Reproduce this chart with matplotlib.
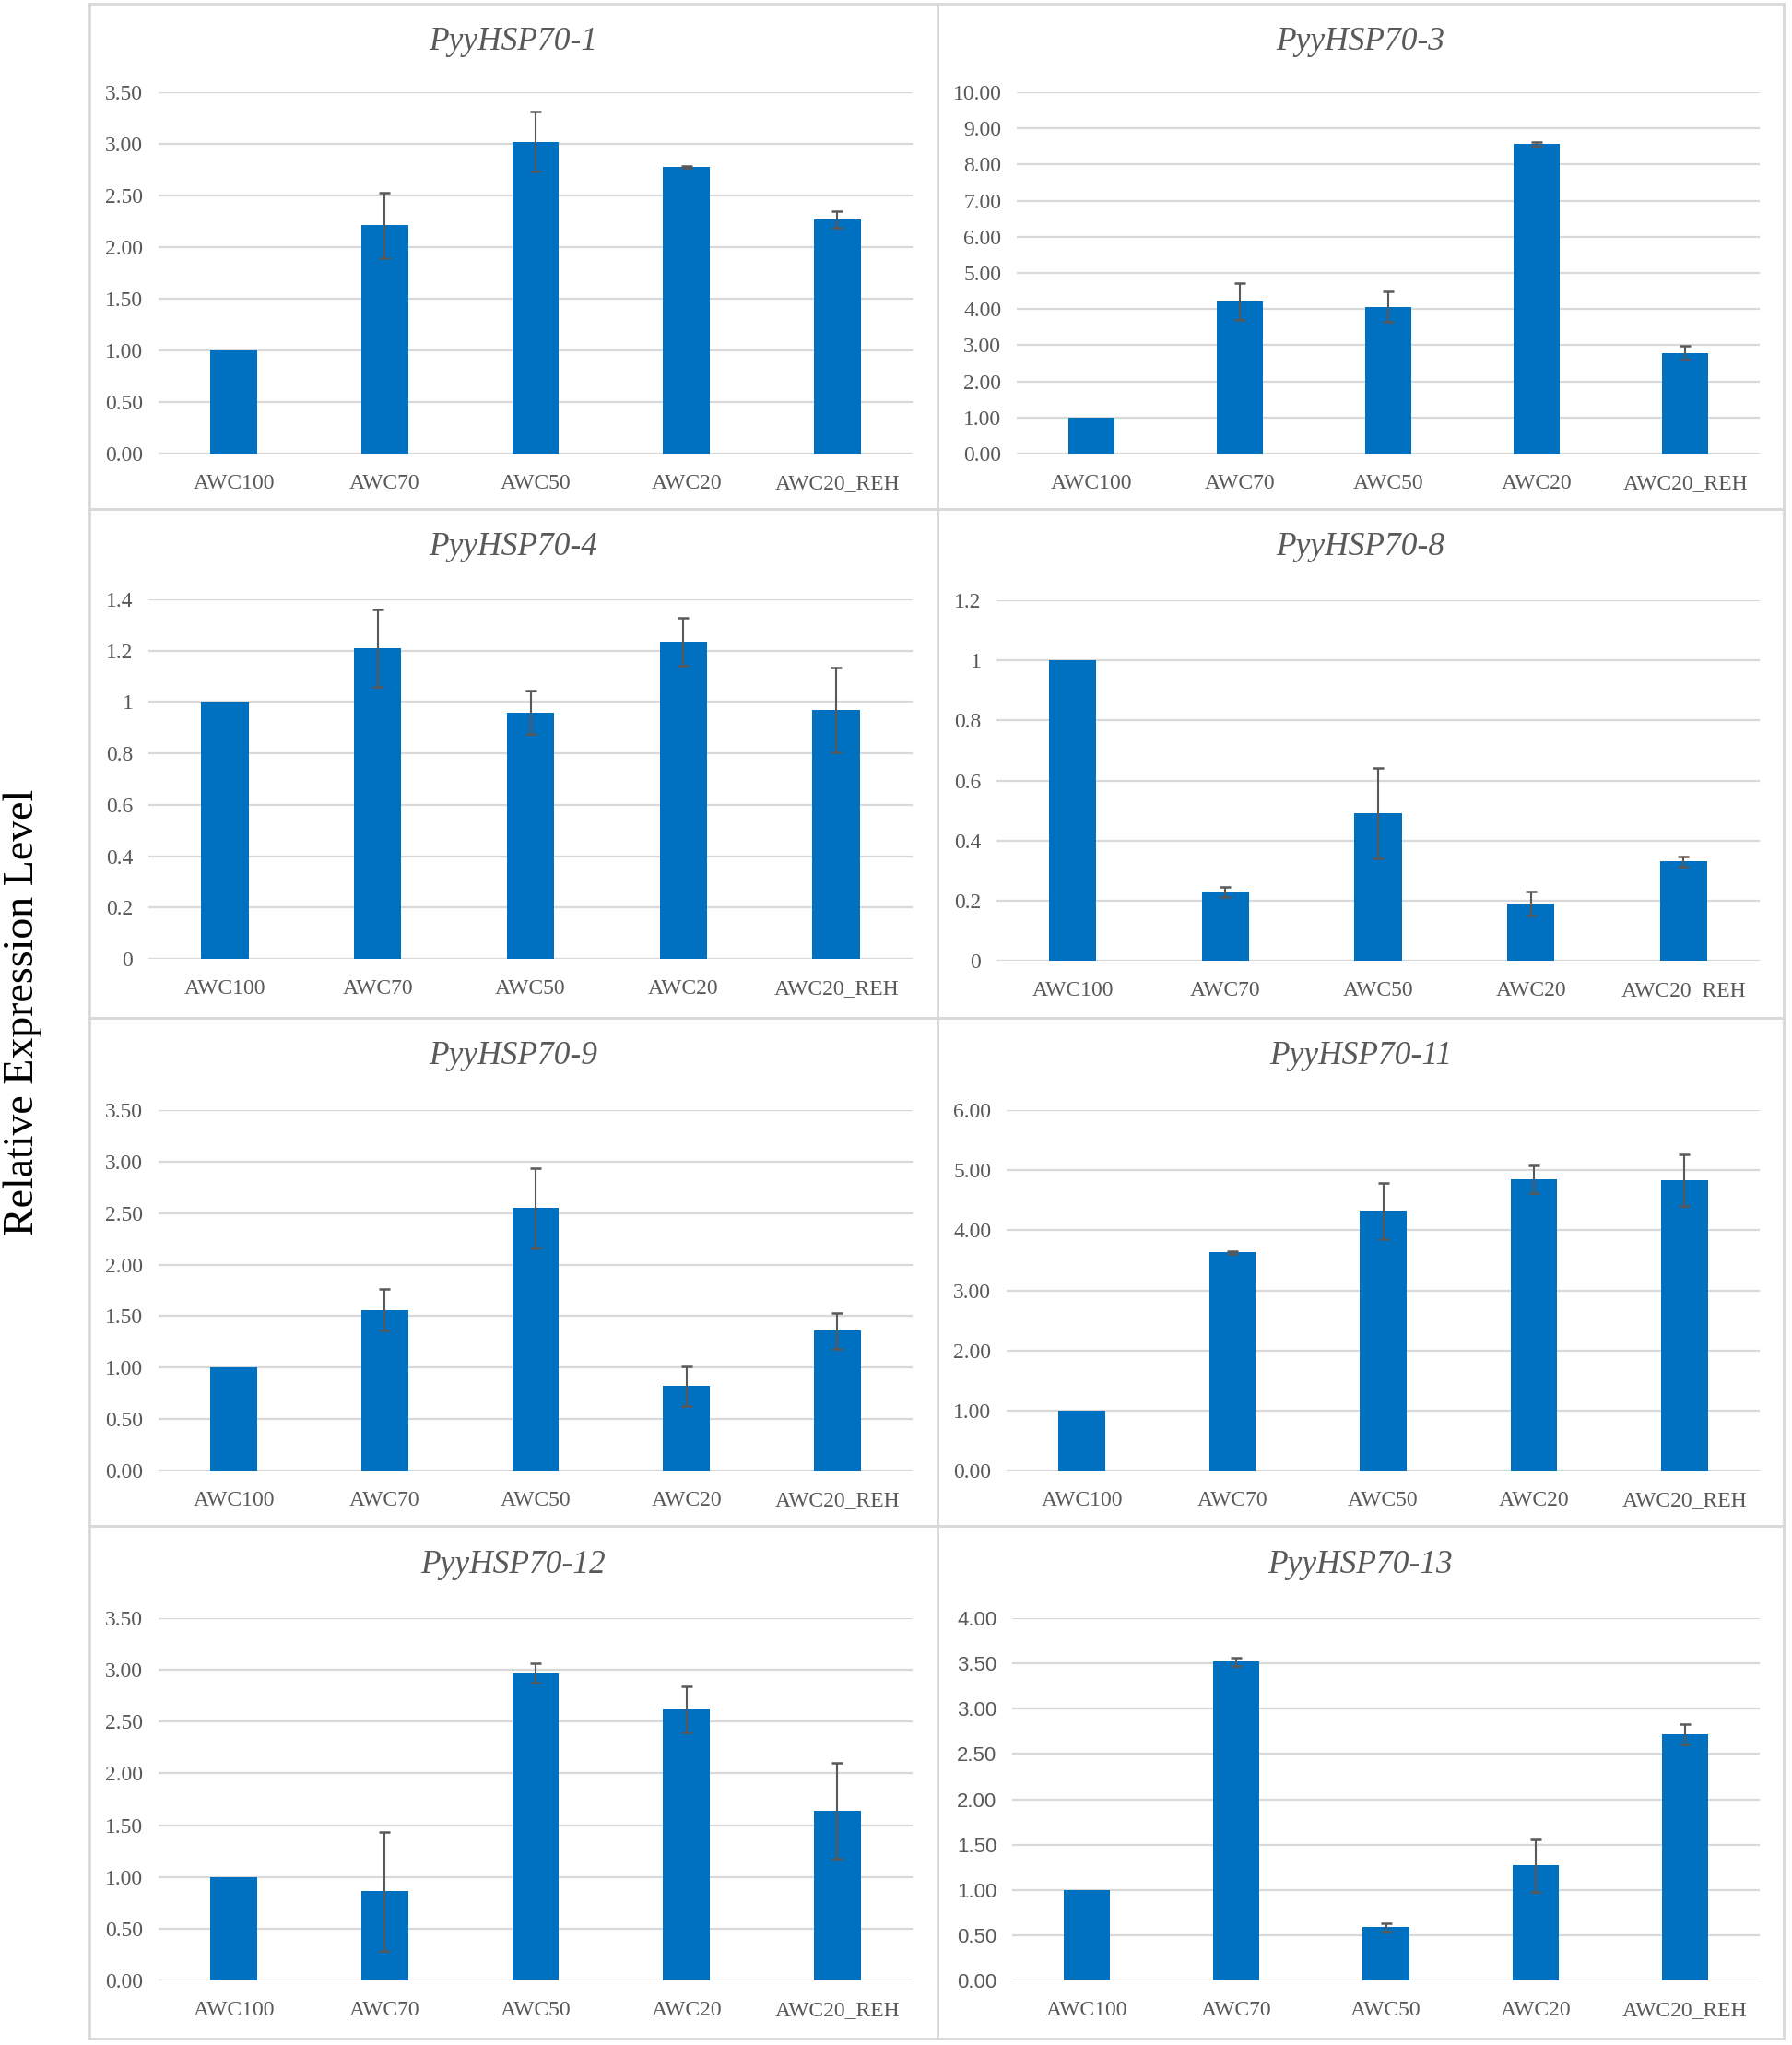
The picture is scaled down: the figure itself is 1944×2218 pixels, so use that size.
import matplotlib
matplotlib.use("Agg")
import matplotlib.pyplot as plt
from matplotlib.patches import Rectangle
import numpy as np

# ---------------- data ----------------
categories = ["AWC100", "AWC70", "AWC50", "AWC20", "AWC20_REH"]

titles = ["PyyHSP70-1", "PyyHSP70-3", "PyyHSP70-4", "PyyHSP70-8",
          "PyyHSP70-9", "PyyHSP70-11", "PyyHSP70-12", "PyyHSP70-13"]

hsp70_1 = [1.00, 2.21, 3.02, 2.78, 2.27]
hsp70_1_err = [0.0, 0.32, 0.29, 0.01, 0.08]

hsp70_3 = [1.00, 4.22, 4.06, 8.57, 2.79]
hsp70_3_err = [0.0, 0.51, 0.42, 0.05, 0.19]

hsp70_4 = [1.00, 1.21, 0.96, 1.235, 0.97]
hsp70_4_err = [0.0, 0.15, 0.085, 0.095, 0.165]

hsp70_8 = [1.00, 0.23, 0.49, 0.19, 0.33]
hsp70_8_err = [0.0, 0.017, 0.15, 0.04, 0.018]

hsp70_9 = [1.00, 1.56, 2.55, 0.82, 1.36]
hsp70_9_err = [0.0, 0.20, 0.39, 0.195, 0.175]

hsp70_11 = [1.00, 3.63, 4.32, 4.85, 4.84]
hsp70_11_err = [0.0, 0.02, 0.47, 0.235, 0.43]

hsp70_12 = [1.00, 0.86, 2.97, 2.62, 1.64]
hsp70_12_err = [0.0, 0.575, 0.09, 0.22, 0.46]

hsp70_13 = [1.00, 3.52, 0.586, 1.27, 2.72]
hsp70_13_err = [0.0, 0.045, 0.045, 0.29, 0.11]

values = [hsp70_1, hsp70_3, hsp70_4, hsp70_8, hsp70_9, hsp70_11, hsp70_12, hsp70_13]
errors = [hsp70_1_err, hsp70_3_err, hsp70_4_err, hsp70_8_err,
          hsp70_9_err, hsp70_11_err, hsp70_12_err, hsp70_13_err]

# y axis settings: (max, step, format)
y_max = [3.5, 10, 1.4, 1.2, 3.5, 6, 3.5, 4]
y_step = [0.5, 1, 0.2, 0.2, 0.5, 1, 0.5, 0.5]
y_fmt = ["{:.2f}", "{:.2f}", "{:g}", "{:g}", "{:.2f}", "{:.2f}", "{:.2f}", "{:.2f}"]

ylabel = "Relative Expression Level"

# ---------------- layout (pixels) ----------------
W, H = 1944, 2218
fig = plt.figure(figsize=(W / 100, H / 100), dpi=100)
fig.patch.set_facecolor("white")

axes_px = [
    (172, 100, 990, 492),
    (1103, 100, 1909, 492),
    (161, 650, 990, 1040),
    (1081, 651, 1909, 1042),
    (172, 1204, 990, 1595),
    (1092, 1204, 1909, 1595),
    (172, 1755, 990, 2148),
    (1098, 1755, 1909, 2148),
]
col_x = [(97, 1017), (1017, 1935)]
row_y = [(4, 552), (552, 1104), (1104, 1655), (1655, 2211)]

BAR = "#0070C0"
GRID = "#D9D9D9"
TXT = "#595959"
SERIF = ["Liberation Serif", "DejaVu Serif"]
SANS = ["Liberation Sans", "DejaVu Sans"]

# panel borders
for r, (y0, y1) in enumerate(row_y):
    for c, (x0, x1) in enumerate(col_x):
        rect = Rectangle((x0 / W, 1 - y1 / H), (x1 - x0) / W, (y1 - y0) / H,
                         transform=fig.transFigure, fill=False,
                         edgecolor=GRID, linewidth=2.0, zorder=0)
        fig.add_artist(rect)

x = np.arange(len(categories))
for i in range(8):
    l, t, rgt, b = axes_px[i]
    ax = fig.add_axes([l / W, 1 - b / H, (rgt - l) / W, (b - t) / H])
    ax.set_facecolor("none")
    v = np.array(values[i])
    e = np.array(errors[i])
    ax.bar(x, v, width=0.31, color=BAR, zorder=3)
    m = e > 0
    ax.errorbar(x[m], v[m], yerr=e[m], fmt="none", ecolor=TXT,
                elinewidth=1.5, capsize=4, capthick=1.8, zorder=4)
    ax.set_xlim(-0.5, 4.5)
    ax.set_ylim(0, y_max[i])
    ticks = np.arange(0, y_max[i] + y_step[i] / 2, y_step[i])
    ax.set_yticks(ticks)
    ax.set_yticklabels([y_fmt[i].format(round(tk, 2)) for tk in ticks])
    ax.set_xticks(x)
    ax.set_xticklabels(categories)
    for s in ax.spines.values():
        s.set_visible(False)
    ax.yaxis.grid(True, color=GRID, linewidth=1.6, zorder=0)
    ax.set_axisbelow(True)
    ax.tick_params(axis="both", length=0, colors=TXT)
    ax.tick_params(axis="y", pad=12)
    ax.tick_params(axis="x", pad=16)
    yfam = SANS if i == 7 else SERIF
    for lab in ax.get_yticklabels():
        lab.set_fontfamily(yfam)
        lab.set_fontsize(17 if i != 7 else 16)
        lab.set_color(TXT)
    for lab in ax.get_xticklabels():
        lab.set_fontfamily(SERIF)
        lab.set_fontsize(17)
        lab.set_color(TXT)
    # title centered on panel
    r, c = divmod(i, 2)
    cx = (col_x[c][0] + col_x[c][1]) / 2
    ty = row_y[r][0] + 42
    fig.text(cx / W, 1 - ty / H, titles[i], ha="center", va="center",
             fontsize=25.5, fontstyle="italic", family=SERIF, color=TXT)

fig.text(25 / W, 1 - 1098 / H, ylabel, rotation=90, ha="center", va="center",
         fontsize=33, family=SERIF, color="black")

fig.savefig("out.png", dpi=100, facecolor="white")
